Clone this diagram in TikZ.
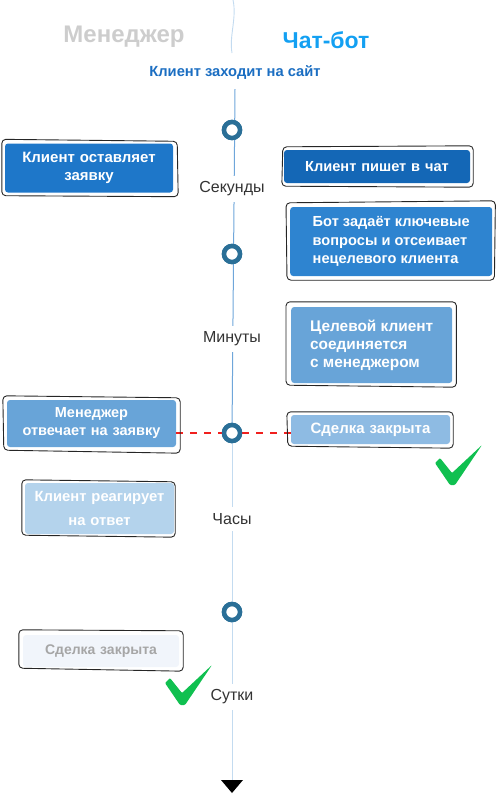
\documentclass[tikz,border=0pt]{standalone}
\usepackage{fontspec}
\setmainfont{Liberation Sans}
\usetikzlibrary{calc}
\definecolor{cA}{HTML}{1E77C9}
\definecolor{cB}{HTML}{1467B6}
\definecolor{cC}{HTML}{2E84D0}
\definecolor{cD}{HTML}{68A4D8}
\definecolor{cE}{HTML}{8EBBE3}
\definecolor{cF}{HTML}{B4D3EC}
\definecolor{cG}{HTML}{F1F5FB}
\definecolor{ring}{HTML}{2A6F97}
\definecolor{tlA}{HTML}{6FA6DA}
\definecolor{tlB}{HTML}{C3DBF0}
\definecolor{hdrgray}{HTML}{CDCDCD}
\definecolor{hdrblue}{HTML}{13A0F2}
\definecolor{subblue}{HTML}{1B6EC2}
\definecolor{okgreen}{HTML}{10C050}
\definecolor{lab}{HTML}{333333}
\definecolor{dashred}{HTML}{F0201E}
\newcommand\sk[5]{\draw[outl] ([shift={#2}]#1.north west) -- ([shift={#3}]#1.north east) -- ([shift={#4}]#1.south east) -- ([shift={#5}]#1.south west) -- cycle;}
\begin{document}
\begin{tikzpicture}[x=1pt,y=-1pt,
  box/.style={rectangle, rounded corners=3pt, inner ysep=0pt, text=white,
    font=\bfseries\fontsize{15}{18}\selectfont},
  cbox/.style={box, inner xsep=0pt, align=center},
  outl/.style={draw=black!85, line width=0.9pt, rounded corners=4pt, line join=round},
  ringn/.style={circle, draw=ring, line width=4.5pt, fill=white, minimum size=16pt, inner sep=0pt},
  tlab/.style={fill=white, text=lab, font=\fontsize{16}{19}\selectfont, inner xsep=1pt, inner ysep=6pt},
  dashl/.style={draw=dashred, line width=1.3pt, dash pattern=on 7pt off 7pt},
  chk/.pic={\fill[okgreen, rounded corners=1pt] (0,18) -- (5,13) -- (17,28) -- (47,0) -- (20,40) -- (15,40) -- cycle;}
]
\useasboundingbox (0,0) rectangle (498,798);

% headers
\node[font=\bfseries\fontsize{24}{28}\selectfont, text=hdrgray] (hm) at (124,37) {Менеджер};
\node[font=\bfseries\fontsize{23}{27}\selectfont, text=hdrblue] (hb) at (326,40) {Чат-бот};
\node[font=\bfseries\fontsize{14.7}{17}\selectfont, text=subblue, fill=white, inner xsep=3pt, inner ysep=10pt] (hs) at (235,72) {Клиент заходит на сайт};

% timeline points
\coordinate (t0) at (233,0);
\coordinate (t1) at (232,53);
\node[ringn] (c1) at (232,130) {};
\node[ringn] (c2) at (232,254) {};
\node[ringn] (c3) at (232,433) {};
\node[ringn] (c4) at (232,612) {};
\coordinate (arr) at (232,780);

% timeline lines
\draw[tlB, line width=0.9pt] (t0) .. controls (237,18) and (229,36) .. (t1);
\draw[tlA, line width=1pt] (hs.south) -- (c3.center);
\draw[tlB, line width=1pt] (c3.center) -- (arr);
\fill[black] (arr) ++(-11,0) -- ++(22,0) -- ++(-11,13) -- cycle;

% boxes next to the dashed line
\node[cbox, fill=cD, minimum width=169pt, minimum height=47pt, text width=169pt, font=\bfseries\fontsize{14.5}{18}\selectfont] (b5) at (91.5,423.5) {Менеджер\\отвечает на заявку};
\node[cbox, fill=cE, minimum width=159pt, minimum height=29pt, text width=159pt] (b6) at (370.5,429.5) {Сделка закрыта};
\draw[dashl] (b5.east |- c3) -- (c3.west);
\draw[dashl] (c3.east) -- (b6.west |- c3);
\node[ringn] at (c3) {};
\node[ringn] at (c1) {};
\node[ringn] at (c2) {};
\node[ringn] at (c4) {};

% time labels
\node[tlab] (l1) at (232,189) {Секунды};
\node[tlab] (l2) at (232,339) {Минуты};
\node[tlab] (l3) at (232,519) {Часы};
\node[tlab] (l4) at (232,697) {Сутки};

% boxes
\node[cbox, fill=cA, minimum width=168pt, minimum height=49pt, text width=168pt] (b1) at (89,168) {Клиент оставляет\\заявку};
\node[cbox, fill=cB, minimum width=186pt, minimum height=33pt, text width=186pt, font=\bfseries\fontsize{14.6}{18}\selectfont] (b2) at (377,166.5) {Клиент пишет в чат};
\node[box, fill=cC, anchor=west, minimum width=202pt, minimum height=69pt, inner xsep=19pt, align=left, font=\bfseries\fontsize{14.6}{18.5}\selectfont] (b3) at (290,241.5) {Бот задаёт ключевые\\вопросы и отсеивает\\нецелевого клиента};
\node[box, fill=cD, anchor=west, minimum width=161pt, minimum height=76pt, inner xsep=18pt, align=left, font=\bfseries\fontsize{15.4}{18}\selectfont] (b4) at (291,345) {Целевой клиент\\соединяется\\с менеджером};
\node[cbox, fill=cF, minimum width=149pt, minimum height=51pt, text width=149pt, font=\bfseries\fontsize{14.8}{24}\selectfont] (b7) at (99.5,508.5) {Клиент реагирует\\на ответ};
\node[cbox, fill=cG, text=black!35, minimum width=156pt, minimum height=32pt, text width=156pt, font=\bfseries\fontsize{14}{17}\selectfont] (b8) at (101,651) {Сделка закрыта};

% sketchy outlines
\sk{b1}{(-3,-4)}{(4,-2)}{(5,4)}{(-3,3)}
\sk{b2}{(-1,-3)}{(3,-4)}{(3,4)}{(-2,3)}
\sk{b3}{(-4,-4)}{(3,-6)}{(2,4)}{(-3,4)}
\sk{b4}{(-5,-5)}{(4,-5)}{(4,4)}{(-5,2)}
\sk{b5}{(-4,-4)}{(4,-2)}{(4,6)}{(-3,3)}
\sk{b6}{(-4,-3)}{(3,-3)}{(3,4)}{(-3,2)}
\sk{b7}{(-3,-3)}{(1,-1)}{(1,3)}{(-3,1)}
\sk{b8}{(-4,-5)}{(4,-4)}{(4,4)}{(-4,1)}

% check marks
\pic at (435,445) {chk};
\pic at (165,665) {chk};
\end{tikzpicture}
\end{document}
